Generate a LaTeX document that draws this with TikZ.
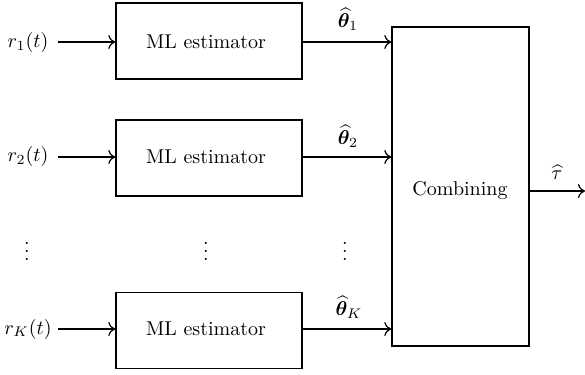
\documentclass[tikz,border=0pt]{standalone}
\usepackage{amsmath,bm}
\usetikzlibrary{arrows.meta}
\begin{document}
\begin{tikzpicture}[x=0.5pt,y=-0.5pt,
  blk/.style={draw,line width=0.7pt,inner sep=0pt},
  conn/.style={line width=0.6pt,-{To[length=3.5pt,width=7pt]}},
  lbl/.style={inner sep=0pt,font=\fontsize{10}{12}\selectfont}]
\useasboundingbox (0,0) rectangle (585,375);
% estimator boxes
\node[blk,minimum width=93pt,minimum height=38pt] (e1) at (209,41) {};
\node[blk,minimum width=93pt,minimum height=38pt] (e2) at (209,158) {};
\node[blk,minimum width=93pt,minimum height=38pt] (eK) at (209,330.5) {};
\node[lbl] (t1) at (206,42) {ML estimator};
\node[lbl] (t2) at (206,157) {ML estimator};
\node[lbl] (tK) at (206,329) {ML estimator};
% combining box
\node[blk,minimum width=68.5pt,minimum height=159.5pt] (c) at (460.5,186.5) {};
\node[lbl] (ct) at (460,191) {Combining};
% inputs
\node[lbl] (r1) at (28,42) {$r_1(t)$};
\node[lbl] (r2) at (28,157) {$r_2(t)$};
\node[lbl] (rK) at (28,329) {$r_K(t)$};
\coordinate (i1) at (58,42);
\coordinate (i2) at (58,157);
\coordinate (iK) at (58,329);
\draw[conn] (i1) -- (e1.west |- i1);
\draw[conn] (i2) -- (e2.west |- i2);
\draw[conn] (iK) -- (eK.west |- iK);
% outputs
\draw[conn] (e1.east |- i1) -- (c.west |- i1);
\draw[conn] (e2.east |- i2) -- (c.west |- i2);
\draw[conn] (eK.east |- iK) -- (c.west |- iK);
\node[lbl] (th1) at (348,19) {$\widehat{\bm\theta}_1$};
\node[lbl] (th2) at (348,136) {$\widehat{\bm\theta}_2$};
\node[lbl] (thK) at (349,307) {$\widehat{\bm\theta}_K$};
% output of combining
\coordinate (o) at (585,191);
\draw[conn] (c.east |- o) -- (o);
\node[lbl] (tau) at (557,172) {$\widehat{\tau}$};
% dots
\node[lbl] (d1) at (27,245) {$\vdots$};
\node[lbl] (d2) at (206,245) {$\vdots$};
\node[lbl] (d3) at (345,245) {$\vdots$};
\end{tikzpicture}
\end{document}
